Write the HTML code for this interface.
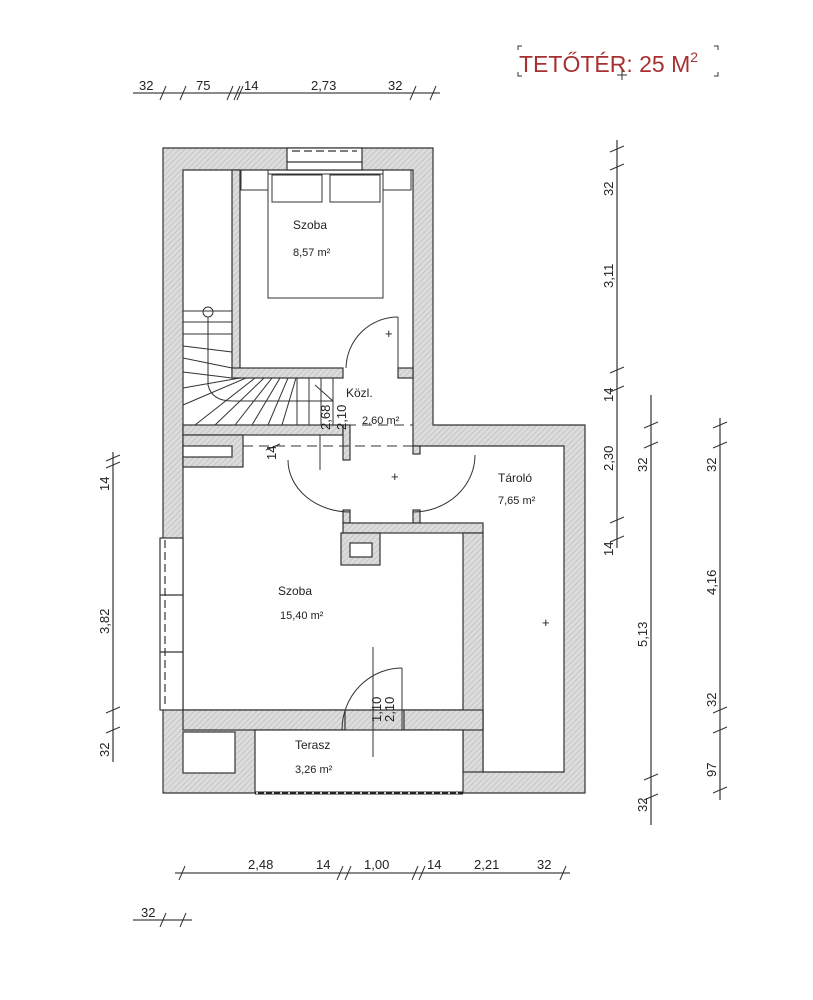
<!DOCTYPE html>
<html><head><meta charset="utf-8"><style>
html,body{margin:0;padding:0;background:#fff;}
svg{display:block;font-family:"Liberation Sans",sans-serif;}
</style></head><body>
<svg width="813" height="1000" viewBox="0 0 813 1000" xmlns="http://www.w3.org/2000/svg">
<defs>
<pattern id="h" width="4" height="4" patternUnits="userSpaceOnUse" patternTransform="rotate(45)">
<rect width="4" height="4" fill="#dcdcdc"/><line x1="0" y1="0" x2="0" y2="4" stroke="#b8b8b8" stroke-width="1.2"/>
</pattern>
</defs>
<g stroke="#333" stroke-width="1.2">
<!-- outer silhouette -->
<polygon points="163,148 433,148 433,425 585,425 585,793 163,793" fill="url(#h)"/>
<!-- interior -->
<polygon points="183,170 413,170 413,446 564,446 564,772 483,772 483,710 183,710" fill="#fff"/>
<!-- internal walls -->
<rect x="232" y="170" width="8" height="208" fill="url(#h)"/>
<rect x="232" y="368" width="111" height="10" fill="url(#h)"/>
<rect x="398" y="368" width="15" height="10" fill="url(#h)"/>
<rect x="183" y="425" width="160" height="10" fill="url(#h)"/>
<rect x="183" y="435" width="60" height="32" fill="url(#h)"/>
<rect x="343" y="425" width="7" height="35" fill="url(#h)"/>
<rect x="413" y="446" width="7" height="8" fill="url(#h)"/>
<rect x="343" y="510" width="7" height="13" fill="url(#h)"/>
<rect x="413" y="510" width="7" height="13" fill="url(#h)"/>
<rect x="343" y="523" width="140" height="10" fill="url(#h)"/>
<rect x="341" y="533" width="39" height="32" fill="url(#h)"/>
<rect x="463" y="533" width="20" height="239" fill="url(#h)"/>
<rect x="183" y="710" width="162" height="20" fill="url(#h)"/>
<rect x="404" y="710" width="79" height="20" fill="url(#h)"/>
<!-- holes -->
<rect x="183" y="446" width="49" height="11" fill="#fff"/>
<rect x="350" y="543" width="22" height="14" fill="#fff"/>
<rect x="183" y="732" width="52" height="41" fill="#fff"/>
<rect x="255" y="730" width="208" height="63" fill="#fff"/>
<!-- windows -->
<rect x="287" y="148" width="75" height="22" fill="#fff"/>
<line x1="287" y1="162" x2="362" y2="162"/>
<line x1="292" y1="151" x2="357" y2="151" stroke-dasharray="8,4"/>
<rect x="160" y="538" width="23" height="172" fill="#fff"/>
<line x1="165" y1="540" x2="165" y2="708" stroke-dasharray="8,4"/>
<line x1="160" y1="595" x2="183" y2="595"/><line x1="160" y1="652" x2="183" y2="652"/>
<line x1="255" y1="793" x2="463" y2="793" stroke-width="3" stroke="#222"/>
<line x1="256" y1="793" x2="462" y2="793" stroke-width="1.5" stroke="#fff" stroke-dasharray="2,6"/>
</g>
<g stroke="#333" stroke-width="1" fill="none">
<!-- closet divider -->
<line x1="183" y1="311" x2="232" y2="311"/>
<!-- stairs -->
<line x1="183" y1="322" x2="232" y2="322"/><line x1="183" y1="334" x2="232" y2="334"/>
<line x1="183" y1="346" x2="232" y2="352"/><line x1="183" y1="358" x2="232" y2="368"/>
<line x1="183" y1="372" x2="232" y2="378"/><line x1="183" y1="388" x2="240" y2="378"/>
<line x1="183" y1="405" x2="246" y2="378"/><line x1="195" y1="425" x2="255" y2="378"/>
<line x1="215" y1="425" x2="264" y2="378"/><line x1="235" y1="425" x2="272" y2="378"/>
<line x1="252" y1="425" x2="280" y2="378"/><line x1="268" y1="425" x2="288" y2="378"/>
<line x1="282" y1="425" x2="296" y2="378"/>
<line x1="297" y1="378" x2="297" y2="425"/><line x1="309" y1="378" x2="309" y2="425"/>
<line x1="321" y1="378" x2="321" y2="425"/><line x1="333" y1="378" x2="333" y2="425"/>
<circle cx="208" cy="312" r="5"/>
<path d="M208,317 L208,385 Q212,402 235,401 L333,401"/>
<line x1="315" y1="385" x2="333" y2="401"/>
<!-- bed -->
<rect x="268" y="174" width="115" height="124"/>
<rect x="272" y="175" width="50" height="27"/><rect x="330" y="175" width="50" height="27"/>
<rect x="241" y="170" width="27" height="20"/><rect x="383" y="170" width="28" height="20"/>
<!-- doors -->
<line x1="398" y1="317" x2="398" y2="368"/>
<path d="M398,317 A52,52 0 0 0 346,368"/>
<path d="M288,460 A62,52 0 0 0 350,512"/>
<path d="M475,455 A62,57 0 0 1 413,512"/>
<line x1="402" y1="668" x2="402" y2="730"/>
<path d="M402,668 A60,62 0 0 0 342,730"/>
<line x1="373" y1="647" x2="373" y2="757"/>
<line x1="320" y1="435" x2="320" y2="470"/>
<!-- dashed lines -->
<line x1="330" y1="425" x2="413" y2="425" stroke-dasharray="10,6"/>
<line x1="243" y1="446" x2="413" y2="446" stroke-dasharray="10,6"/>
</g>
<!-- dimension lines -->
<g stroke="#444" stroke-width="1.3" fill="none">
<line x1="133" y1="93" x2="440" y2="93"/>
<line x1="617" y1="140" x2="617" y2="548"/>
<line x1="651" y1="395" x2="651" y2="825"/>
<line x1="720" y1="418" x2="720" y2="800"/>
<line x1="113" y1="452" x2="113" y2="762"/>
<line x1="175" y1="873" x2="570" y2="873"/>
<line x1="133" y1="920" x2="192" y2="920"/>
</g>
<g stroke="#333" stroke-width="1">
<path d="M160,100 l6,-14 M180,100 l6,-14 M227,100 l6,-14 M234,100 l6,-14 M237,100 l6,-14 M410,100 l6,-14 M430,100 l6,-14"/>
<path d="M610,152 l14,-6 M610,170 l14,-6 M610,373 l14,-6 M610,392 l14,-6 M610,523 l14,-6 M610,542 l14,-6"/>
<path d="M644,428 l14,-6 M644,448 l14,-6 M644,780 l14,-6 M644,800 l14,-6"/>
<path d="M713,428 l14,-6 M713,448 l14,-6 M713,713 l14,-6 M713,733 l14,-6 M713,793 l14,-6"/>
<path d="M106,461 l14,-6 M106,468 l14,-6 M106,713 l14,-6 M106,733 l14,-6"/>
<path d="M179,880 l6,-14 M337,880 l6,-14 M345,880 l6,-14 M412,880 l6,-14 M419,880 l6,-14 M560,880 l6,-14"/>
<path d="M160,927 l6,-14 M180,927 l6,-14"/>
<path d="M266,450 l14,-6 M315,385 l0,0"/>
</g>
<g font-size="13" fill="#222">
<text x="139" y="90">32</text><text x="196" y="90">75</text><text x="244" y="90">14</text>
<text x="311" y="90">2,73</text><text x="388" y="90">32</text>
<text x="248" y="869">2,48</text><text x="316" y="869">14</text><text x="364" y="869">1,00</text>
<text x="427" y="869">14</text><text x="474" y="869">2,21</text><text x="537" y="869">32</text>
<text x="141" y="917">32</text>
<g transform="rotate(-90)">
<text x="-196" y="613">32</text><text x="-288" y="613">3,11</text><text x="-402" y="613">14</text>
<text x="-471" y="613">2,30</text><text x="-556" y="613">14</text>
<text x="-472" y="647">32</text><text x="-647" y="647">5,13</text><text x="-812" y="647">32</text>
<text x="-472" y="716">32</text><text x="-595" y="716">4,16</text><text x="-707" y="716">32</text><text x="-777" y="716">97</text>
<text x="-491" y="109">14</text><text x="-634" y="109">3,82</text><text x="-757" y="109">32</text>
<text x="-430" y="330">2,68</text><text x="-430" y="346">2,10</text>
<text x="-460" y="276">14</text>
<text x="-722" y="381">1,10</text><text x="-722" y="394">2,10</text>
</g>
</g>
<g fill="#222" font-size="12">
<text x="293" y="229">Szoba</text><text x="293" y="256" font-size="11">8,57 m²</text>
<text x="346" y="397">Közl.</text><text x="362" y="424" font-size="11">2,60 m²</text>
<text x="498" y="482">Tároló</text><text x="498" y="504" font-size="11">7,65 m²</text>
<text x="278" y="595">Szoba</text><text x="280" y="619" font-size="11">15,40 m²</text>
<text x="295" y="749">Terasz</text><text x="295" y="773" font-size="11">3,26 m²</text>
<text x="385" y="338" font-size="13">+</text><text x="391" y="481" font-size="13">+</text>
<text x="542" y="627" font-size="13">+</text>
</g>
<text x="519" y="72" font-size="23" fill="#a83030">TETŐTÉR: 25 M<tspan font-size="14" dy="-10">2</tspan></text>
<path d="M518,50 v-4 h4 M718,50 v-4 h-4 M518,72 v4 h4 M718,72 v4 h-4 M622,70 v10 M617,75 h10" stroke="#333" stroke-width="1" fill="none"/>
</svg>
</body></html>
